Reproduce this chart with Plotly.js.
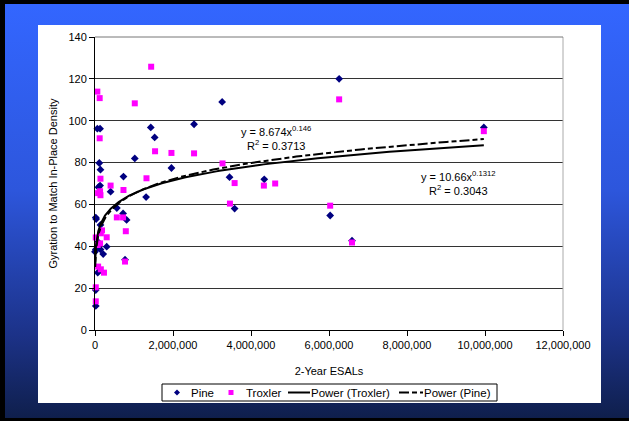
<!DOCTYPE html>
<html>
<head>
<meta charset="utf-8">
<script src="https://cdn.plot.ly/plotly-3.0.1.min.js"></script>
<style>
html,body{margin:0;padding:0;background:#000;}
#frame{position:absolute;left:0;top:0;width:629px;height:421px;background:#000;overflow:hidden;}
#blue{position:absolute;left:5px;top:4px;width:624px;height:414px;background:linear-gradient(to bottom,#3366ff 0%,#2d56dc 45%,#1c3288 80%,#0f1f4c 100%);}
#white{position:absolute;left:38px;top:25px;width:563px;height:378px;background:#fff;}
#chart{position:absolute;left:0;top:0;width:629px;height:421px;}
</style>
</head>
<body>
<div id="frame"><div id="blue"></div><div id="white"></div><div id="chart"></div></div>
<script>
// Pine (x in ESALs, y gyrations)
const pineX = [20000,30000,60000,130000,110000,140000,130000,90000,400000,560000,730000,720000,1020000,1310000,1430000,1530000,1960000,2540000,3260000,3450000,3580000,4340000,6030000,6260000,6590000,9970000,810000,140000,80000,20000,140000,300000,210000,0,770000,70000,20000,20000];
const pineY = [53.7,53.0,96.2,96.2,79.8,76.6,69.0,68.2,66.1,58.3,73.3,55.7,82.0,63.5,96.8,92.0,77.4,98.3,109.0,73.0,58.0,72.0,54.7,120.0,42.7,96.8,52.6,50.2,42.0,38.5,38.5,39.8,36.3,37.4,33.6,27.4,19.1,11.5];
// Troxler
const troxX = [60000,120000,1440000,1020000,120000,1540000,1960000,2540000,1320000,140000,400000,130000,140000,80000,730000,3270000,3580000,3460000,4330000,4620000,6030000,6260000,6590000,9970000,560000,720000,790000,180000,150000,300000,20000,130000,70000,770000,80000,150000,230000,20000,20000];
const troxY = [113.9,110.8,125.8,108.3,91.6,85.4,84.6,84.4,72.5,72.3,69.0,66.3,64.4,65.4,66.9,79.6,70.2,60.4,69.0,70.0,59.4,110.2,41.8,95.0,53.8,53.8,47.2,47.6,46.2,44.3,44.2,41.4,40.6,32.7,30.3,29.0,27.4,20.4,13.7];
// Power trendline coefficients [a, b] for y = a * x^b
const powerTroxler = [10.66, 0.1312];
const powerPine = [8.674, 0.146];
const trendRange = [5000, 9970000];
const xTicks = [0,2000000,4000000,6000000,8000000,10000000,12000000];
const yTicks = [0,20,40,60,80,100,120,140];
const seriesNames = ['Pine','Troxler','Power (Troxler)','Power (Pine)'];

function curve(c){
  const xs=[],ys=[];
  const l0=Math.log(trendRange[0]), l1=Math.log(trendRange[1]);
  for(let i=0;i<=300;i++){
    const x=Math.exp(l0+(l1-l0)*i/300);
    xs.push(x); ys.push(c[0]*Math.pow(x,c[1]));
  }
  return {xs,ys};
}
const ct=curve(powerTroxler), cp=curve(powerPine);
const font='"Liberation Sans", Arial, sans-serif';
const pineDash='10px,3px,5px,3px';
const traces=[
 {x:pineX,y:pineY,mode:'markers',type:'scatter',name:seriesNames[0],marker:{symbol:'diamond',size:6,color:'#000080'},cliponaxis:false},
 {x:troxX,y:troxY,mode:'markers',type:'scatter',name:seriesNames[1],marker:{symbol:'square',size:6,color:'#ff00ff'},cliponaxis:false},
 {x:ct.xs,y:ct.ys,mode:'lines',type:'scatter',name:seriesNames[2],line:{color:'#000',width:2}},
 {x:cp.xs,y:cp.ys,mode:'lines',type:'scatter',name:seriesNames[3],line:{color:'#000',width:2,dash:pineDash}}
];
// manual legend (paper coords: plot area x 95..563, y 37..330 px)
const PX=px=>(px-95)/468, PY=py=>(330-py)/293;
const ly=PY(392.5);
const legendShapes=[
 {type:'rect',xref:'paper',yref:'paper',x0:PX(162),x1:PX(497),y0:PY(401),y1:PY(384),line:{color:'#000',width:1},fillcolor:'#fff',layer:'above'},
 {type:'path',xref:'paper',yref:'paper',xsizemode:'pixel',ysizemode:'pixel',xanchor:PX(177),yanchor:ly,path:'M0,3 L3,0 L0,-3 L-3,0 Z',fillcolor:'#000080',line:{width:0}},
 {type:'rect',xref:'paper',yref:'paper',xsizemode:'pixel',ysizemode:'pixel',xanchor:PX(231),yanchor:ly,x0:-2.5,x1:2.5,y0:-2.5,y1:2.5,fillcolor:'#ff00ff',line:{width:0}},
 {type:'line',xref:'paper',yref:'paper',x0:PX(288),x1:PX(310),y0:ly,y1:ly,line:{color:'#000',width:2}},
 {type:'line',xref:'paper',yref:'paper',x0:PX(399),x1:PX(423),y0:ly,y1:ly,line:{color:'#000',width:2,dash:pineDash}}
];
const legendText=[[191,seriesNames[0]],[246,seriesNames[1]],[311,seriesNames[2]],[424,seriesNames[3]]].map(([px,t])=>(
 {xref:'paper',yref:'paper',x:PX(px),y:ly,xanchor:'left',yanchor:'middle',text:t,showarrow:false,font:{size:11.5},xshift:-2}
));
const layout={
 width:629,height:421,
 margin:{l:95,r:66,t:37,b:91},
 paper_bgcolor:'rgba(0,0,0,0)',plot_bgcolor:'#fff',
 font:{family:font,size:11,color:'#000'},
 showlegend:false,
 xaxis:{range:[0,12000000],tickvals:xTicks,ticktext:xTicks.map(v=>v.toLocaleString('en-US')),ticks:'outside',ticklen:5,tickcolor:'#000',showline:true,linecolor:'#000',linewidth:1,showgrid:false,zeroline:false,
   title:{text:'2-Year ESALs',font:{size:11},standoff:17}},
 yaxis:{range:[0,140],tickvals:yTicks,ticks:'outside',ticklen:5,tickcolor:'#000',showline:true,linecolor:'#000',linewidth:1,showgrid:true,gridcolor:'#333',gridwidth:1,zeroline:false,
   title:{text:'Gyration to Match In-Place Density',font:{size:11},standoff:8}},
 shapes:[
  {type:'line',xref:'paper',yref:'paper',x0:1,x1:1,y0:0,y1:1,line:{color:'#aaa',width:1}},
  {type:'line',xref:'paper',yref:'paper',x0:0,x1:1,y0:1,y1:1,line:{color:'#777',width:1}}
 ].concat(legendShapes),
 annotations:[
  {x:4640000,y:91.7,xref:'x',yref:'y',text:'y = 8.674x<sup>0.146</sup><br>R<sup>2</sup> = 0.3713',showarrow:false,align:'center',font:{size:11}},
  {x:9330000,y:70.2,xref:'x',yref:'y',text:'y = 10.66x<sup>0.1312</sup><br>R<sup>2</sup> = 0.3043',showarrow:false,align:'center',font:{size:11}}
 ].concat(legendText)
};
Plotly.newPlot('chart',traces,layout,{displayModeBar:false,staticPlot:true});
</script>
</body>
</html>
